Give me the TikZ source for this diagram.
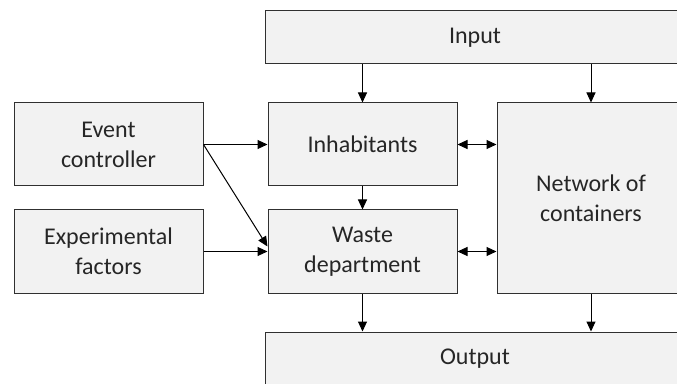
\documentclass[tikz,border=0pt]{standalone}
\usepackage{fontspec}
\setmainfont{Carlito}
\usetikzlibrary{arrows.meta}
\definecolor{boxfill}{HTML}{F2F2F2}
\definecolor{boxline}{HTML}{303030}
\definecolor{txt}{HTML}{262626}
\tikzset{
  block/.style={draw=boxline, fill=boxfill, line width=1pt, inner sep=0pt,
    align=center, text=txt, font=\fontsize{24}{30}\selectfont},
  flow/.style={-{Triangle[length=10pt,width=9pt]}, line width=1pt, draw=black},
  both/.style={{Triangle[length=10pt,width=9pt]}-{Triangle[length=10pt,width=9pt]}, line width=1pt, draw=black}
}
\begin{document}
\begin{tikzpicture}[x=1pt,y=1pt]
\useasboundingbox (0,0) rectangle (677,383);
\clip (0,0) rectangle (677,383);
% boxes
\node[block, minimum width=420, minimum height=53] (input) at (475,345.5) {Input};
\node[block, minimum width=189, minimum height=83] (event) at (108.5,238.5) {Event\\controller};
\node[block, minimum width=189, minimum height=83] (inhab) at (362.5,238.5) {Inhabitants};
\node[block, minimum width=188, minimum height=190] (net) at (591,185) {Network of\\containers};
\node[block, minimum width=189, minimum height=83] (exper) at (108.5,131.5) {Experimental\\factors};
\node[block, minimum width=189, minimum height=83] (waste) at (362.5,131.5) {Waste\\department};
\node[block, minimum width=420, minimum height=53] (output) at (475,24.5) {Output};
% connectors
\draw[flow] (inhab.north |- input.south) -- (inhab.north);
\draw[flow] (net.north |- input.south) -- (net.north);
\draw[flow] (inhab.south) -- (waste.north);
\draw[flow] (waste.south) -- (waste.south |- output.north);
\draw[flow] (net.south) -- (net.south |- output.north);
\draw[both] (inhab.east) -- (net.west |- inhab.east);
\draw[both] (waste.east) -- (net.west |- waste.east);
\draw[flow] (event.east) -- (inhab.west);
\draw[flow] (exper.east) -- (waste.west);
\draw[flow] (event.east) -- ([yshift=5pt]waste.west);
\end{tikzpicture}
\end{document}
